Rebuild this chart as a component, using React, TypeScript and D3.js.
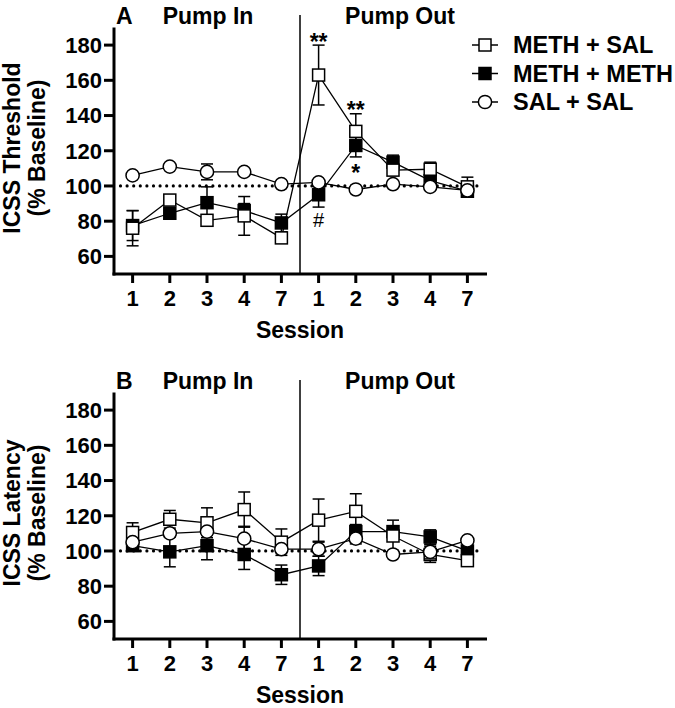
import React from "react";
import * as d3 from "d3";

// ---------- data ----------
const sessions = ["1", "2", "3", "4", "7", "1", "2", "3", "4", "7"];
const phaseLabels = ["Pump In", "Pump Out"];
const seriesNames = ["METH + SAL", "METH + METH", "SAL + SAL"];
const yTicks = [60, 80, 100, 120, 140, 160, 180];

// Panel A: ICSS Threshold
const thrMethSal = [76, 92, 80.5, 83, 70.5, 163, 131, 109, 109.5, 99.5];
const thrMethSalErr = [10, 3, 3, 11, 2, 17, 10, 3, 4, 5.5];
const thrMethMeth = [77.5, 84.5, 90.5, 86, 79, 95, 123, 113.5, 103, 97];
const thrMethMethErr = [8.5, 3, 9, 4, 5, 7, 6.5, 4, 3, 3];
const thrSalSal = [106, 111, 108, 108, 101, 102, 98, 101, 99.5, 97.5];
const thrSalSalErr = [1, 1, 4.5, 1, 1, 1, 1, 1, 1, 1];

// Panel B: ICSS Latency
const latMethSal = [110.5, 118, 116, 123.5, 105, 117.5, 122.5, 108.5, 98, 94.5];
const latMethSalErr = [5.5, 5, 8.5, 10, 7.5, 12, 10, 9, 4.5, 3];
const latMethMeth = [103, 99.5, 103, 98, 86.5, 91.5, 111, 111, 108, 100];
const latMethMethErr = [3, 8.5, 8, 8.5, 5.5, 5.5, 4, 3, 4, 3];
const latSalSal = [105, 110, 111, 107, 101, 101, 107, 98, 99.5, 106];
const latSalSalErr = [2, 2, 2, 7, 2, 4, 3, 1.5, 4, 1.5];

// significance marks (panel A): index, text, series (0 open,1 filled), side
const annIndex = [5, 6, 6, 5];
const annText = ["**", "**", "*", "#"];
const annSeries = [0, 0, 1, 1];
const annSide = ["above", "above", "below", "below"];

const FONT = "'Liberation Sans', Arial, Helvetica, sans-serif";

type Series = { mean: number[]; err: number[]; kind: "open" | "filled" | "circle" };

function Marker({ kind, x, y }: { kind: string; x: number; y: number }) {
  if (kind === "circle")
    return <circle cx={x} cy={y} r={6.6} fill="#fff" stroke="#000" strokeWidth={1.5} />;
  return (
    <rect
      x={x - 6}
      y={y - 6}
      width={12}
      height={12}
      fill={kind === "filled" ? "#000" : "#fff"}
      stroke="#000"
      strokeWidth={1.5}
    />
  );
}

function Panel({
  offset,
  letter,
  yTitle,
  series,
  showLegend,
  annotations,
}: {
  offset: number;
  letter: string;
  yTitle: string;
  series: Series[];
  showLegend: boolean;
  annotations: boolean;
}) {
  const x = d3.scaleLinear().domain([-0.5, 9.5]).range([114, 486]);
  const y = d3.scaleLinear().domain([50, 190]).range([274 + offset, 27.5 + offset]);
  const line = d3
    .line<number>()
    .x((_, i) => x(i))
    .y((d) => y(d));
  const axisX = 114;
  const axisY = y(50);
  const divX = x(4.5);

  // drawing order: filled, open, circle
  const order = [1, 0, 2];

  return (
    <g>
      {/* panel letter and phase labels */}
      <text x={116} y={24 + offset} fontSize={23} fontWeight="bold" fontFamily={FONT}>
        {letter}
      </text>
      <text x={208} y={24 + offset} fontSize={23} fontWeight="bold" fontFamily={FONT} textAnchor="middle">
        {phaseLabels[0]}
      </text>
      <text x={400} y={24 + offset} fontSize={23} fontWeight="bold" fontFamily={FONT} textAnchor="middle">
        {phaseLabels[1]}
      </text>

      {/* divider */}
      <line x1={divX} x2={divX} y1={15 + offset} y2={axisY} stroke="#000" strokeWidth={1.5} />

      {/* baseline dotted line */}
      <line
        x1={120.5}
        x2={481}
        y1={y(100)}
        y2={y(100)}
        stroke="#000"
        strokeWidth={3.2}
        strokeDasharray="0 6.6"
        strokeLinecap="round"
      />

      {/* series */}
      {order.map((si) => {
        const s = series[si];
        return (
          <g key={si}>
            {s.mean.map((m, i) => {
              const cx = x(i);
              const t = y(m + s.err[i]);
              const b = y(m - s.err[i]);
              return (
                <g key={i} stroke="#000" strokeWidth={1.5}>
                  <line x1={cx} x2={cx} y1={t} y2={b} />
                  <line x1={cx - 6} x2={cx + 6} y1={t} y2={t} />
                  <line x1={cx - 6} x2={cx + 6} y1={b} y2={b} />
                </g>
              );
            })}
            <path d={line(s.mean) || ""} fill="none" stroke="#000" strokeWidth={1.3} />
            {s.mean.map((m, i) => (
              <Marker key={i} kind={s.kind} x={x(i)} y={y(m)} />
            ))}
          </g>
        );
      })}

      {/* annotations */}
      {annotations &&
        annIndex.map((idx, k) => {
          const s = series[annSeries[k]];
          const above = annSide[k] === "above";
          const yy = above ? y(s.mean[idx] + s.err[idx]) + 4.5 : y(s.mean[idx] - s.err[idx]) + (annText[k] === "#" ? 20 : 24);
          return (
            <text
              key={k}
              x={x(idx)}
              y={yy}
              textAnchor="middle"
              fontSize={annText[k] === "#" ? 20 : 23}
              fontWeight={annText[k] === "#" ? "normal" : "bold"}
              fontFamily={FONT}
            >
              {annText[k]}
            </text>
          );
        })}

      {/* axes */}
      <line x1={axisX} x2={axisX} y1={y(190)} y2={axisY + 1.5} stroke="#000" strokeWidth={3} />
      <line x1={axisX - 1.5} x2={487} y1={axisY} y2={axisY} stroke="#000" strokeWidth={3} />
      {yTicks.map((t) => (
        <g key={t}>
          <line x1={axisX - 10} x2={axisX} y1={y(t)} y2={y(t)} stroke="#000" strokeWidth={3} />
          <text
            x={axisX - 12}
            y={y(t)}
            dy="0.36em"
            textAnchor="end"
            fontSize={22}
            fontWeight="bold"
            fontFamily={FONT}
          >
            {t}
          </text>
        </g>
      ))}
      {sessions.map((s, i) => (
        <g key={i}>
          <line x1={x(i)} x2={x(i)} y1={axisY} y2={axisY + 9} stroke="#000" strokeWidth={3} />
          <text x={x(i)} y={306 + offset} textAnchor="middle" fontSize={22} fontWeight="bold" fontFamily={FONT}>
            {s}
          </text>
        </g>
      ))}
      <text x={300} y={338 + offset} textAnchor="middle" fontSize={23} fontWeight="bold" fontFamily={FONT}>
        Session
      </text>

      {/* y title */}
      <g transform={`translate(0, ${148 + offset}) rotate(-90)`}>
        <text x={0} y={20} textAnchor="middle" fontSize={23} fontWeight="bold" fontFamily={FONT}>
          {yTitle}
        </text>
        <text x={0} y={45} textAnchor="middle" fontSize={23} fontWeight="bold" fontFamily={FONT}>
          (% Baseline)
        </text>
      </g>

      {/* legend */}
      {showLegend &&
        seriesNames.map((name, k) => {
          const ly = [45, 73.5, 102][k];
          const kind = series[k].kind;
          return (
            <g key={k}>
              <line x1={472} x2={498} y1={ly} y2={ly} stroke="#000" strokeWidth={1.5} />
              <Marker kind={kind} x={485} y={ly} />
              <text x={513} y={ly} dy="0.36em" fontSize={23.5} fontWeight="bold" fontFamily={FONT}>
                {name}
              </text>
            </g>
          );
        })}
    </g>
  );
}

export default function App() {
  const seriesA: Series[] = [
    { mean: thrMethSal, err: thrMethSalErr, kind: "open" },
    { mean: thrMethMeth, err: thrMethMethErr, kind: "filled" },
    { mean: thrSalSal, err: thrSalSalErr, kind: "circle" },
  ];
  const seriesB: Series[] = [
    { mean: latMethSal, err: latMethSalErr, kind: "open" },
    { mean: latMethMeth, err: latMethMethErr, kind: "filled" },
    { mean: latSalSal, err: latSalSalErr, kind: "circle" },
  ];
  return (
    <svg
      width={675}
      height={708}
      style={{ position: "absolute", left: 0, top: 0, background: "#fff" }}
    >
      <rect width={675} height={708} fill="#fff" />
      <Panel offset={0} letter="A" yTitle="ICSS Threshold" series={seriesA} showLegend={true} annotations={true} />
      <Panel offset={365} letter="B" yTitle="ICSS Latency" series={seriesB} showLegend={false} annotations={false} />
    </svg>
  );
}
